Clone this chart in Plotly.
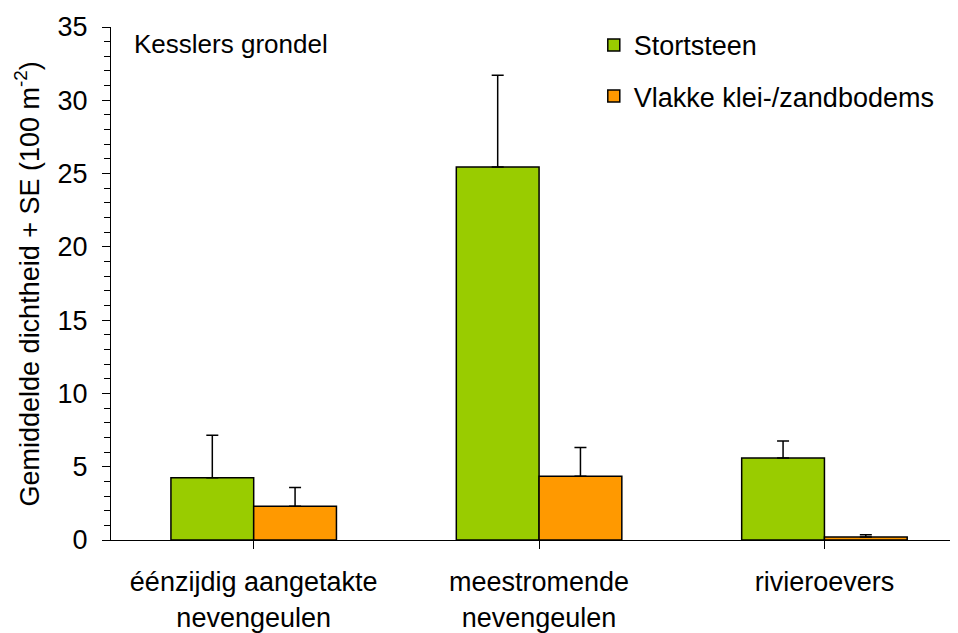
import plotly.graph_objects as go

categories = ["éénzijdig aangetakte<br>nevengeulen", "meestromende<br>nevengeulen", "rivieroevers"]
series_names = ["Stortsteen", "Vlakke klei-/zandbodems"]
stortsteen_mean = [4.25, 25.45, 5.6]
stortsteen_se = [2.9, 6.25, 1.15]
vlakke_mean = [2.3, 4.35, 0.2]
vlakke_se = [1.28, 1.96, 0.15]
colors = ["#99CC00", "#FF9900"]
y_ticks = [0, 5, 10, 15, 20, 25, 30, 35]
y_title = "Gemiddelde dichtheid + SE (100 m<sup>-2</sup>)"

FONT = "Liberation Sans, Arial, sans-serif"
FS = 27
fig = go.Figure()
for i, (name, mean, se) in enumerate(zip(series_names, [stortsteen_mean, vlakke_mean], [stortsteen_se, vlakke_se])):
    fig.add_trace(go.Bar(
        x=list(range(len(categories))), y=mean, name=name,
        legendgroup=name,
        marker=dict(color=colors[i], line=dict(color="black", width=1.5)),
        error_y=dict(type="data", symmetric=False, array=se, arrayminus=[0]*len(se),
                     color="black", thickness=1.5, width=6),
    ))

fig.add_annotation(text="Kesslers grondel", xref="paper", yref="paper", x=0.0248, y=0.966,
                   xanchor="left", yanchor="middle", showarrow=False,
                   font=dict(family=FONT, size=26, color="black"))
fig.add_annotation(text=y_title, xref="paper", yref="paper", x=-0.0992, y=0.5,
                   xanchor="center", yanchor="middle", textangle=-90, showarrow=False,
                   font=dict(family=FONT, size=FS, color="black"))

# page body has an 8px margin, so the figure is 8px smaller and margins are offset
fig.update_layout(
    width=950, height=625,
    margin=dict(l=103, r=0, t=19, b=93, autoexpand=False),
    paper_bgcolor="white", plot_bgcolor="white",
    barmode="group", bargap=0.42, bargroupgap=0,
    font=dict(family=FONT, size=FS, color="black"),
    showlegend=True,
    legend=dict(x=0.570, y=1.012, xanchor="left", yanchor="top", bgcolor="rgba(0,0,0,0)",
                font=dict(family=FONT, size=FS, color="black"), tracegroupgap=13,
                traceorder="grouped"),
    xaxis=dict(range=[-0.5, 2.468], tickmode="array", tickvals=list(range(len(categories))),
               ticktext=categories, showline=True, linecolor="black", linewidth=1,
               ticks="outside", tickson="boundaries", ticklen=8, tickcolor="black",
               showgrid=False, zeroline=False, tickfont=dict(size=FS), automargin=False,
               ticklabelstandoff=10),
    yaxis=dict(range=[0, 35], tickvals=y_ticks, showline=True, linecolor="black", linewidth=1,
               ticks="outside", ticklen=8, tickcolor="black", showgrid=False, zeroline=False,
               minor=dict(dtick=1, ticks="outside", ticklen=6, tickcolor="black", showgrid=False),
               tickfont=dict(size=FS), ticklabelstandoff=9, automargin=False),
)
fig.write_html("out.html")
